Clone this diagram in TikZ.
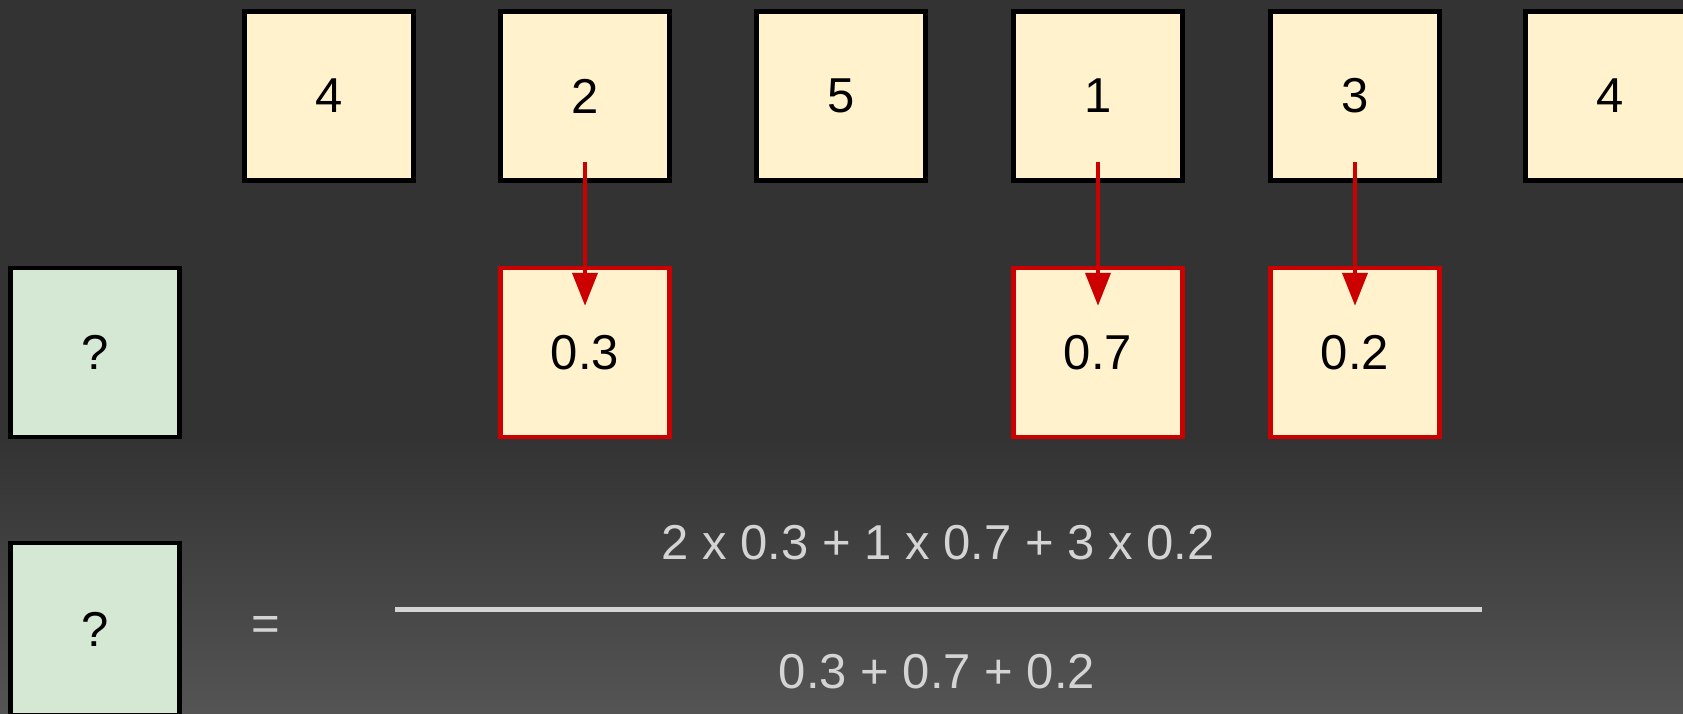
\documentclass[tikz,border=0pt]{standalone}
\usepackage{fontspec}
\setmainfont{Liberation Sans}
\usetikzlibrary{arrows.meta}
\definecolor{bgtop}{HTML}{333333}
\definecolor{bgbot}{HTML}{545454}
\definecolor{cellfill}{HTML}{FFF2CC}
\definecolor{qfill}{HTML}{D5E8D4}
\definecolor{hred}{HTML}{CC0000}
\definecolor{formula}{HTML}{D4D4D4}
\tikzset{
  cell/.style={draw=black, line width=2.25pt, fill=cellfill, minimum width=84.5pt, minimum height=84.5pt, inner sep=0pt, font=\fontsize{24.5pt}{28pt}\selectfont, text=black},
  hcell/.style={cell, draw=hred},
  qcell/.style={cell, fill=qfill},
  ftext/.style={font=\fontsize{24.5pt}{28pt}\selectfont, text=formula, inner sep=0pt},
  arr/.style={draw=hred, line width=2pt, -{Triangle[length=16.5pt,width=12.5pt]}, hred},
}
\begin{document}
\begin{tikzpicture}[x=0.5pt,y=-0.5pt]
\useasboundingbox (0,0) rectangle (1683,713);
\clip (0,0) rectangle (1683,713);
\fill[bgtop] (0,0) rectangle (1683,713);
\shade[top color=bgtop, bottom color=bgbot] (0,440) rectangle (1683,713);
% top row
\node[cell] (t1) at (329,96) {4};
\node[cell] (t2) at (585,96) {2};
\node[cell] (t3) at (841,96) {5};
\node[cell] (t4) at (1098,96) {1};
\node[cell] (t5) at (1355,96) {3};
\node[cell] (t6) at (1610,96) {4};
% middle row
\node[qcell] (q1) at (95,352.5) {?};
\node[hcell] (r2) at (585,352.5) {0.3};
\node[hcell] (r4) at (1098,352.5) {0.7};
\node[hcell] (r5) at (1355,352.5) {0.2};
% arrows
\draw[arr] ([yshift=10.25pt]t2.south) -- ([yshift=-20pt]r2.north);
\draw[arr] ([yshift=10.25pt]t4.south) -- ([yshift=-20pt]r4.north);
\draw[arr] ([yshift=10.25pt]t5.south) -- ([yshift=-20pt]r5.north);
% bottom formula
\node[qcell, minimum height=86pt] (q2) at (95,629) {?};
\node[ftext] (eq) at (266,628) {=};
\node[ftext] (num) at (938,543) {2 x 0.3 + 1 x 0.7 + 3 x 0.2};
\node[ftext] (den) at (937,672) {0.3 + 0.7 + 0.2};
\coordinate (fl) at (395,609);
\coordinate (fr) at (1482,609);
\draw[formula, line width=2.5pt] (fl) -- (fr);
\end{tikzpicture}
\end{document}
